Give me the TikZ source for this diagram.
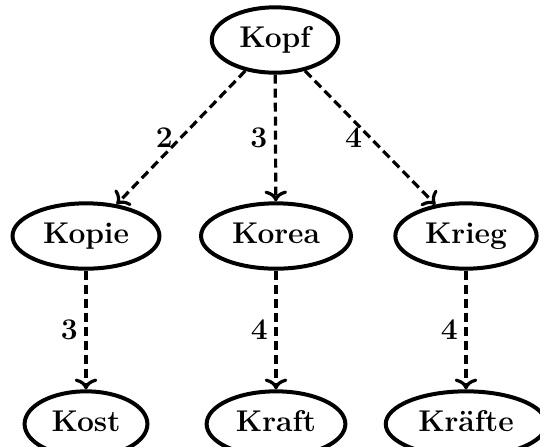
\documentclass[tikz,border=0pt]{standalone}
\usetikzlibrary{shapes.geometric,arrows.meta}

\begin{document}
\begin{tikzpicture}[x=0.5pt,y=-0.5pt,
    word/.style={ellipse, draw, line width=2pt, inner xsep=4.5pt,
      inner ysep=4.8pt, text height=10.5pt, text depth=3pt,
      font=\fontsize{15}{18}\selectfont\bfseries},
    link/.style={-{To[scale=1.05]}, line width=1.6pt, dash pattern=on 4.5pt off 2.5pt},
    cost/.style={left, font=\fontsize{15}{18}\selectfont\bfseries}]
      \useasboundingbox (0,0) rectangle (540,446);
      %\draw [help lines] (0,0) grid [step=20] (540,446);
      \node [word] (kopf) at (275,40) {Kopf};
      \node [word] (kopie) at (86,236) {Kopie};
      \node [word] (korea) at (276,236) {Korea};
      \node [word] (krieg) at (466,236) {Krieg};
      \node [word] (kost) at (86,424) {Kost};
      \node [word] (kraft) at (276,424) {Kraft};
      \node [word] (kraefte) at (466,424) {Kräfte};
      \draw [link] (kopf) -- (kopie) node [cost, midway] {2};
      \draw [link] (kopf) -- (korea) node [cost, midway] {3};
      \draw [link] (kopf) -- (krieg) node [cost, midway] {4};
      \draw [link] (kopie) -- (kost) node [cost, midway] {3};
      \draw [link] (korea) -- (kraft) node [cost, midway] {4};
      \draw [link] (krieg) -- (kraefte) node [cost, midway] {4};
\end{tikzpicture}
\end{document}
